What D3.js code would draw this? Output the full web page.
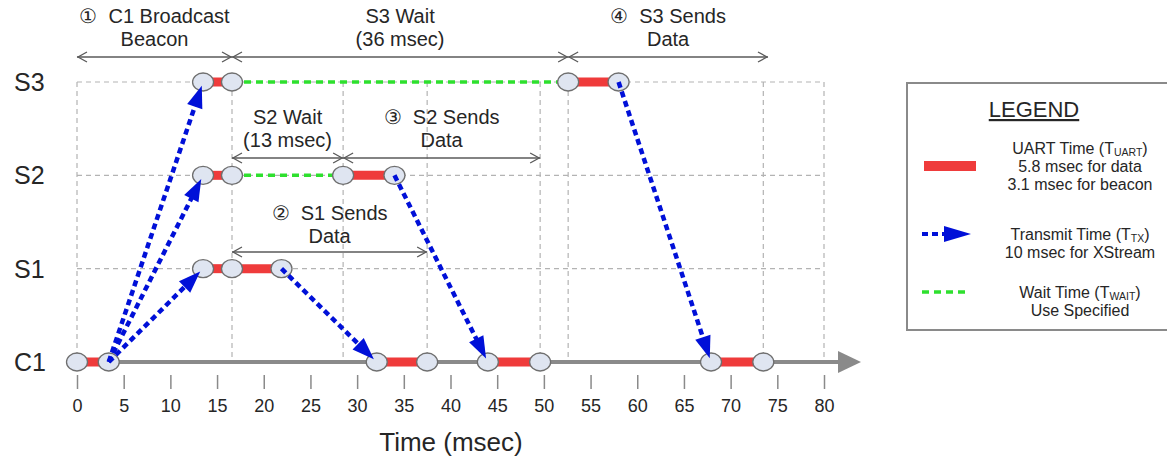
<!DOCTYPE html>
<html><head><meta charset="utf-8">
<script src="https://cdn.jsdelivr.net/npm/d3@7"></script>
<style>
body{margin:0;background:#fff}
svg{display:block}
text{font-family:"Liberation Sans",Arial,sans-serif;fill:#262626}
</style>
</head><body>
<svg id="chart" width="1167" height="466"></svg>
<script>
// ---------- data ----------
const rows = ["S3", "S2", "S1", "C1"];
const tickValues = [0, 5, 10, 15, 20, 25, 30, 35, 40, 45, 50, 55, 60, 65, 70, 75, 80];
const gridTimes = [0, 16.6, 28.5, 37.5, 49.6, 52.6, 73.5, 80];
const uartSegments = [
  {row: "C1", start: 0, end: 3.4},
  {row: "S3", start: 13.5, end: 16.6},
  {row: "S2", start: 13.5, end: 16.6},
  {row: "S1", start: 13.5, end: 16.6},
  {row: "S1", start: 16.6, end: 21.9},
  {row: "C1", start: 32.1, end: 37.5},
  {row: "S2", start: 28.5, end: 34.0},
  {row: "C1", start: 44.0, end: 49.6},
  {row: "S3", start: 52.6, end: 58.0},
  {row: "C1", start: 67.9, end: 73.5}
];
const waitSegments = [
  {row: "S2", start: 16.6, end: 28.5},
  {row: "S3", start: 16.6, end: 52.6}
];
const transmits = [
  {fromRow: "C1", fromT: 3.4, toRow: "S1", toT: 13.5},
  {fromRow: "C1", fromT: 3.4, toRow: "S2", toT: 13.5},
  {fromRow: "C1", fromT: 3.4, toRow: "S3", toT: 13.5},
  {fromRow: "S1", fromT: 21.9, toRow: "C1", toT: 32.1},
  {fromRow: "S2", fromT: 34.0, toRow: "C1", toT: 44.0},
  {fromRow: "S3", fromT: 58.0, toRow: "C1", toT: 67.9}
];
const phaseSpans = [
  {start: 0, end: 16.6, level: 0, lines: ["\u2460  C1 Broadcast", "Beacon"]},
  {start: 16.6, end: 52.6, level: 0, lines: ["S3 Wait", "(36 msec)"]},
  {start: 52.6, end: 74.0, level: 0, lines: ["\u2463  S3 Sends", "Data"]},
  {start: 16.6, end: 28.5, level: 1, lines: ["S2 Wait", "(13 msec)"]},
  {start: 28.5, end: 49.6, level: 1, lines: ["\u2462  S2 Sends", "Data"]},
  {start: 16.6, end: 37.5, level: 2, lines: ["\u2461  S1 Sends", "Data"]}
];
const axisTitle = "Time (msec)";
const legendTitle = "LEGEND";
const legendEntries = [
  {kind: "uart", head: "UART Time (T", sub: "UART", rest: ["5.8 msec for data", "3.1 msec for beacon"]},
  {kind: "tx", head: "Transmit Time (T", sub: "TX", rest: ["10 msec for XStream"]},
  {kind: "wait", head: "Wait Time (T", sub: "WAIT", rest: ["Use Specified"]}
];

// ---------- styles ----------
const C = {
  red: "#ef3b3b", blue: "#0010d8", green: "#2ee02e", grid: "#b3b3b3",
  axis: "#8a8a8a", node: "#dfe5f1", nodeStroke: "#6f6f6f", ann: "#5a5a5a"
};

const svg = d3.select("#chart");
const x = d3.scaleLinear().domain([0, 80]).range([77, 824]);
const y = d3.scalePoint().domain(rows).range([82, 362]);

// grid
const grid = svg.append("g");
grid.selectAll("line.h").data(rows.filter(r => r !== "C1")).join("line")
  .attr("x1", x(0)).attr("x2", x(80)).attr("y1", d => y(d)).attr("y2", d => y(d))
  .attr("stroke", C.grid).attr("stroke-width", 1.2).attr("stroke-dasharray", "5,4");
grid.selectAll("line.v").data(gridTimes).join("line")
  .attr("x1", d => x(d)).attr("x2", d => x(d)).attr("y1", y("S3")).attr("y2", y("C1"))
  .attr("stroke", C.grid).attr("stroke-width", 1.2).attr("stroke-dasharray", "5,4");

// main time axis line + arrow
svg.append("line").attr("x1", x(0)).attr("x2", 840).attr("y1", y("C1")).attr("y2", y("C1"))
  .attr("stroke", C.axis).attr("stroke-width", 4);
svg.append("path").attr("d", `M838,${y("C1") - 11}L861,${y("C1")}L838,${y("C1") + 11}Z`).attr("fill", C.axis);

// ticks via d3 axis
const axisG = svg.append("g").attr("transform", `translate(0,375)`)
  .call(d3.axisBottom(x).tickValues(tickValues).tickSize(14).tickPadding(10).tickFormat(d3.format("d")));
axisG.select(".domain").remove();
axisG.selectAll(".tick line").attr("stroke", C.axis).attr("stroke-width", 1.5);
axisG.selectAll(".tick text").attr("font-size", 18).attr("font-family", "Liberation Sans, Arial, sans-serif").attr("fill", "#262626");

svg.append("text").attr("x", 451).attr("y", 451).attr("text-anchor", "middle")
  .attr("font-size", 26).text(axisTitle);

// row labels
svg.selectAll("text.row").data(rows).join("text")
  .attr("x", 14).attr("y", d => y(d) + 9).attr("font-size", 25).text(d => d);

// wait segments (green dashed)
svg.selectAll("line.wait").data(waitSegments).join("line")
  .attr("x1", d => x(d.start)).attr("x2", d => x(d.end))
  .attr("y1", d => y(d.row)).attr("y2", d => y(d.row))
  .attr("stroke", C.green).attr("stroke-width", 3.5).attr("stroke-dasharray", "7,5");

// UART bars
svg.selectAll("line.uart").data(uartSegments).join("line")
  .attr("x1", d => x(d.start)).attr("x2", d => x(d.end))
  .attr("y1", d => y(d.row)).attr("y2", d => y(d.row))
  .attr("stroke", C.red).attr("stroke-width", 9);

// nodes
const nodeMap = new Map();
uartSegments.forEach(s => {
  [s.start, s.end].forEach(t => nodeMap.set(s.row + ":" + t, {row: s.row, t}));
});
svg.selectAll("ellipse.node").data([...nodeMap.values()]).join("ellipse")
  .attr("cx", d => x(d.t)).attr("cy", d => y(d.row)).attr("rx", 10.5).attr("ry", 9)
  .attr("fill", C.node).attr("stroke", C.nodeStroke).attr("stroke-width", 1.3);

// transmit arrows
const txG = svg.append("g");
transmits.forEach(d => {
  const x1 = x(d.fromT), y1 = y(d.fromRow), x2 = x(d.toT), y2 = y(d.toRow);
  const dx = x2 - x1, dy = y2 - y1, L = Math.hypot(dx, dy), ux = dx / L, uy = dy / L;
  const tipX = x2 - ux * 4, tipY = y2 - uy * 4;
  const head = 22, hw = 8;
  const bx = tipX - ux * head, by = tipY - uy * head;
  txG.append("line").attr("x1", x1).attr("y1", y1).attr("x2", bx + ux * 2).attr("y2", by + uy * 2)
    .attr("stroke", C.blue).attr("stroke-width", 4.5).attr("stroke-dasharray", "6,4");
  txG.append("path").attr("d", `M${tipX},${tipY}L${bx - uy * hw},${by + ux * hw}L${bx + uy * hw},${by - ux * hw}Z`)
    .attr("fill", C.blue);
});

// phase span annotations
const levelY = [57, 158, 252];
const levelText = [[23, 46], [124, 147], [220, 243]];
const annG = svg.append("g");
phaseSpans.forEach(s => {
  const xa = x(s.start), xb = x(s.end), yy = levelY[s.level];
  annG.append("line").attr("x1", xa).attr("x2", xb).attr("y1", yy).attr("y2", yy)
    .attr("stroke", C.ann).attr("stroke-width", 1.3);
  annG.append("path").attr("d", `M${xa + 10},${yy - 5}L${xa + 1},${yy}L${xa + 10},${yy + 5}`)
    .attr("fill", "none").attr("stroke", C.ann).attr("stroke-width", 1.3);
  annG.append("path").attr("d", `M${xb - 10},${yy - 5}L${xb - 1},${yy}L${xb - 10},${yy + 5}`)
    .attr("fill", "none").attr("stroke", C.ann).attr("stroke-width", 1.3);
  s.lines.forEach((ln, i) => {
    annG.append("text").attr("x", (xa + xb) / 2).attr("y", levelText[s.level][i])
      .attr("text-anchor", "middle").attr("font-size", 20).attr("xml:space", "preserve").text(ln);
  });
});

// legend
const lg = svg.append("g");
lg.append("rect").attr("x", 907).attr("y", 83).attr("width", 290).attr("height", 247)
  .attr("fill", "#fff").attr("stroke", "#8a8a8a").attr("stroke-width", 2);
lg.append("text").attr("x", 1034).attr("y", 117).attr("text-anchor", "middle")
  .attr("font-size", 22).attr("text-decoration", "underline").text(legendTitle);
const entryY = [154, 240, 298];
legendEntries.forEach((e, i) => {
  const by = entryY[i];
  const t = lg.append("text").attr("x", 1080).attr("y", by).attr("text-anchor", "middle").attr("font-size", 16);
  t.append("tspan").text(e.head);
  t.append("tspan").attr("font-size", 10.5).attr("dy", 2).text(e.sub);
  t.append("tspan").attr("dy", -2).text(")");
  e.rest.forEach((r, j) => {
    lg.append("text").attr("x", 1080).attr("y", by + 18 * (j + 1)).attr("text-anchor", "middle")
      .attr("font-size", 16).text(r);
  });
  if (e.kind === "uart") {
    lg.append("rect").attr("x", 924).attr("y", 161).attr("width", 52).attr("height", 10).attr("fill", C.red);
  } else if (e.kind === "tx") {
    lg.append("line").attr("x1", 922).attr("x2", 946).attr("y1", 234).attr("y2", 234)
      .attr("stroke", C.blue).attr("stroke-width", 4).attr("stroke-dasharray", "6,4");
    lg.append("path").attr("d", "M944,226L971,234L944,242Z").attr("fill", C.blue);
  } else {
    lg.append("line").attr("x1", 922).attr("x2", 966).attr("y1", 292).attr("y2", 292)
      .attr("stroke", C.green).attr("stroke-width", 3.5).attr("stroke-dasharray", "7,5");
  }
});
</script>
</body></html>
